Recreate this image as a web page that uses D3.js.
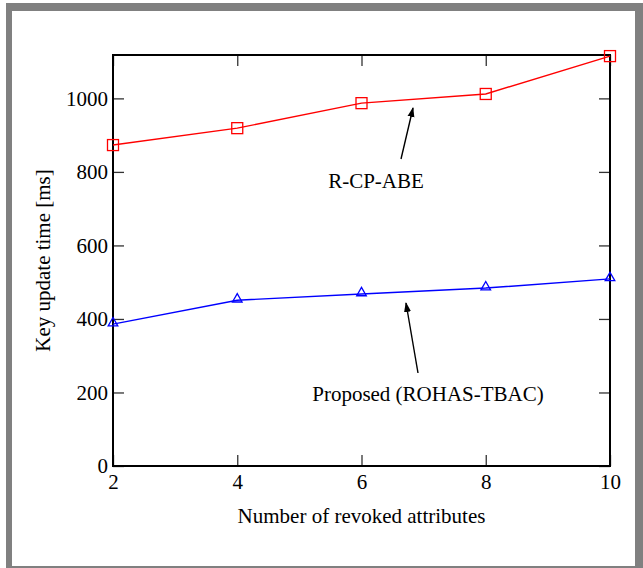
<!DOCTYPE html>
<html>
<head>
<meta charset="utf-8">
<script src="https://cdn.jsdelivr.net/npm/d3@7"></script>
<style>
  body { margin: 0; background: #fff; }
  svg text { font-family: "Liberation Serif", "Times New Roman", serif !important; fill: #000; }
</style>
</head>
<body>
<script>
// attribute counts on the x axis
var attrs = [2, 4, 6, 8, 10];
var xTicks = [2, 4, 6, 8, 10];
var yTicks = [0, 200, 400, 600, 800, 1000];

// key update time (ms)
var rcpabe = [873, 919, 987, 1012, 1115];
var proposed = [386, 451, 468, 484, 509];

var W = 643, H = 568;
var margin = {top: 55, right: 33, bottom: 102, left: 113},
    width = W - margin.left - margin.right,
    height = H - margin.top - margin.bottom;
var fs = "21px";

var svg = d3.select("body").append("svg")
    .attr("width", W)
    .attr("height", H);

// grey frame
svg.append("rect").attr("x", 6).attr("y", 3).attr("width", W - 6).attr("height", H - 3).attr("fill", "#808080");
svg.append("rect").attr("x", 12).attr("y", 11).attr("width", 623).attr("height", 555).attr("fill", "#fff");

var g = svg.append("g")
    .attr("transform", "translate(" + margin.left + "," + margin.top + ")");

var x = d3.scaleLinear().domain([2, 10]).range([0, width]);
var y = d3.scaleLinear().domain([0, 1118]).range([height, 0]);

function styleAxis(sel) {
  sel.select(".domain").remove();
  sel.attr("font-family", null);
  sel.selectAll(".tick line").attr("stroke", "#333").attr("stroke-width", 1.3);
  sel.selectAll(".tick text").style("font-size", fs).attr("fill", "#000");
}

// bottom
g.append("g")
    .attr("transform", "translate(0," + height + ")")
    .call(d3.axisBottom(x).tickValues(xTicks).tickSizeInner(-11).tickSizeOuter(0).tickPadding(8).tickFormat(d3.format("d")))
    .call(styleAxis);
// top mirror
g.append("g")
    .call(d3.axisTop(x).tickValues(xTicks).tickSizeInner(-11).tickSizeOuter(0).tickFormat(""))
    .call(styleAxis);
// left
g.append("g")
    .call(d3.axisLeft(y).tickValues(yTicks).tickSizeInner(-11).tickSizeOuter(0).tickPadding(5).tickFormat(d3.format("d")))
    .call(styleAxis);
// right mirror
g.append("g")
    .attr("transform", "translate(" + width + ",0)")
    .call(d3.axisRight(y).tickValues(yTicks).tickSizeInner(-11).tickSizeOuter(0).tickFormat(""))
    .call(styleAxis);

g.append("rect")
    .attr("width", width).attr("height", height)
    .attr("fill", "none").attr("stroke", "#000").attr("stroke-width", 2);

var line = d3.line()
    .x(function(d, i) { return x(attrs[i]); })
    .y(function(d) { return y(d); });

g.append("path").datum(rcpabe)
    .attr("d", line).attr("fill", "none").attr("stroke", "#ff0000").attr("stroke-width", 1.4);
g.append("path").datum(proposed)
    .attr("d", line).attr("fill", "none").attr("stroke", "#0000ff").attr("stroke-width", 1.4);

g.selectAll(".sq").data(rcpabe).enter().append("rect")
    .attr("class", "sq")
    .attr("x", function(d, i) { return x(attrs[i]) - 5.5; })
    .attr("y", function(d) { return y(d) - 5.5; })
    .attr("width", 11).attr("height", 11)
    .attr("fill", "none").attr("stroke", "#ff0000").attr("stroke-width", 1.3);

var tri = d3.symbol().type(d3.symbolTriangle).size(40);
g.selectAll(".tri").data(proposed).enter().append("path")
    .attr("class", "tri")
    .attr("d", tri)
    .attr("transform", function(d, i) { return "translate(" + x(attrs[i]) + "," + (y(d) - 1) + ")"; })
    .attr("fill", "none").attr("stroke", "#0000ff").attr("stroke-width", 1.3);

// axis titles
svg.append("text")
    .attr("x", margin.left + width / 2).attr("y", 523)
    .attr("text-anchor", "middle").style("font-size", fs)
    .text("Number of revoked attributes");
svg.append("text")
    .attr("transform", "translate(50," + (margin.top + height / 2) + ") rotate(-90)")
    .attr("text-anchor", "middle").style("font-size", fs)
    .text("Key update time [ms]");

// annotations
var defs = svg.append("defs");
defs.append("marker")
    .attr("id", "ah").attr("viewBox", "0 0 10 10")
    .attr("refX", 9).attr("refY", 5)
    .attr("markerWidth", 10).attr("markerHeight", 10)
    .attr("markerUnits", "userSpaceOnUse")
    .attr("orient", "auto")
  .append("path").attr("d", "M0,1.5 L10,5 L0,8.5 Z").attr("fill", "#000");

function annotate(x1, y1, x2, y2, tx, ty, label) {
  svg.append("line")
      .attr("x1", x1).attr("y1", y1).attr("x2", x2).attr("y2", y2)
      .attr("stroke", "#000").attr("stroke-width", 1.4)
      .attr("marker-end", "url(#ah)");
  svg.append("text")
      .attr("x", tx).attr("y", ty)
      .attr("text-anchor", "middle").style("font-size", fs)
      .text(label);
}
annotate(401, 159, 413, 108, 376, 188, "R-CP-ABE");
annotate(418, 373, 406, 303, 428, 401, "Proposed (ROHAS-TBAC)");
</script>
</body>
</html>
